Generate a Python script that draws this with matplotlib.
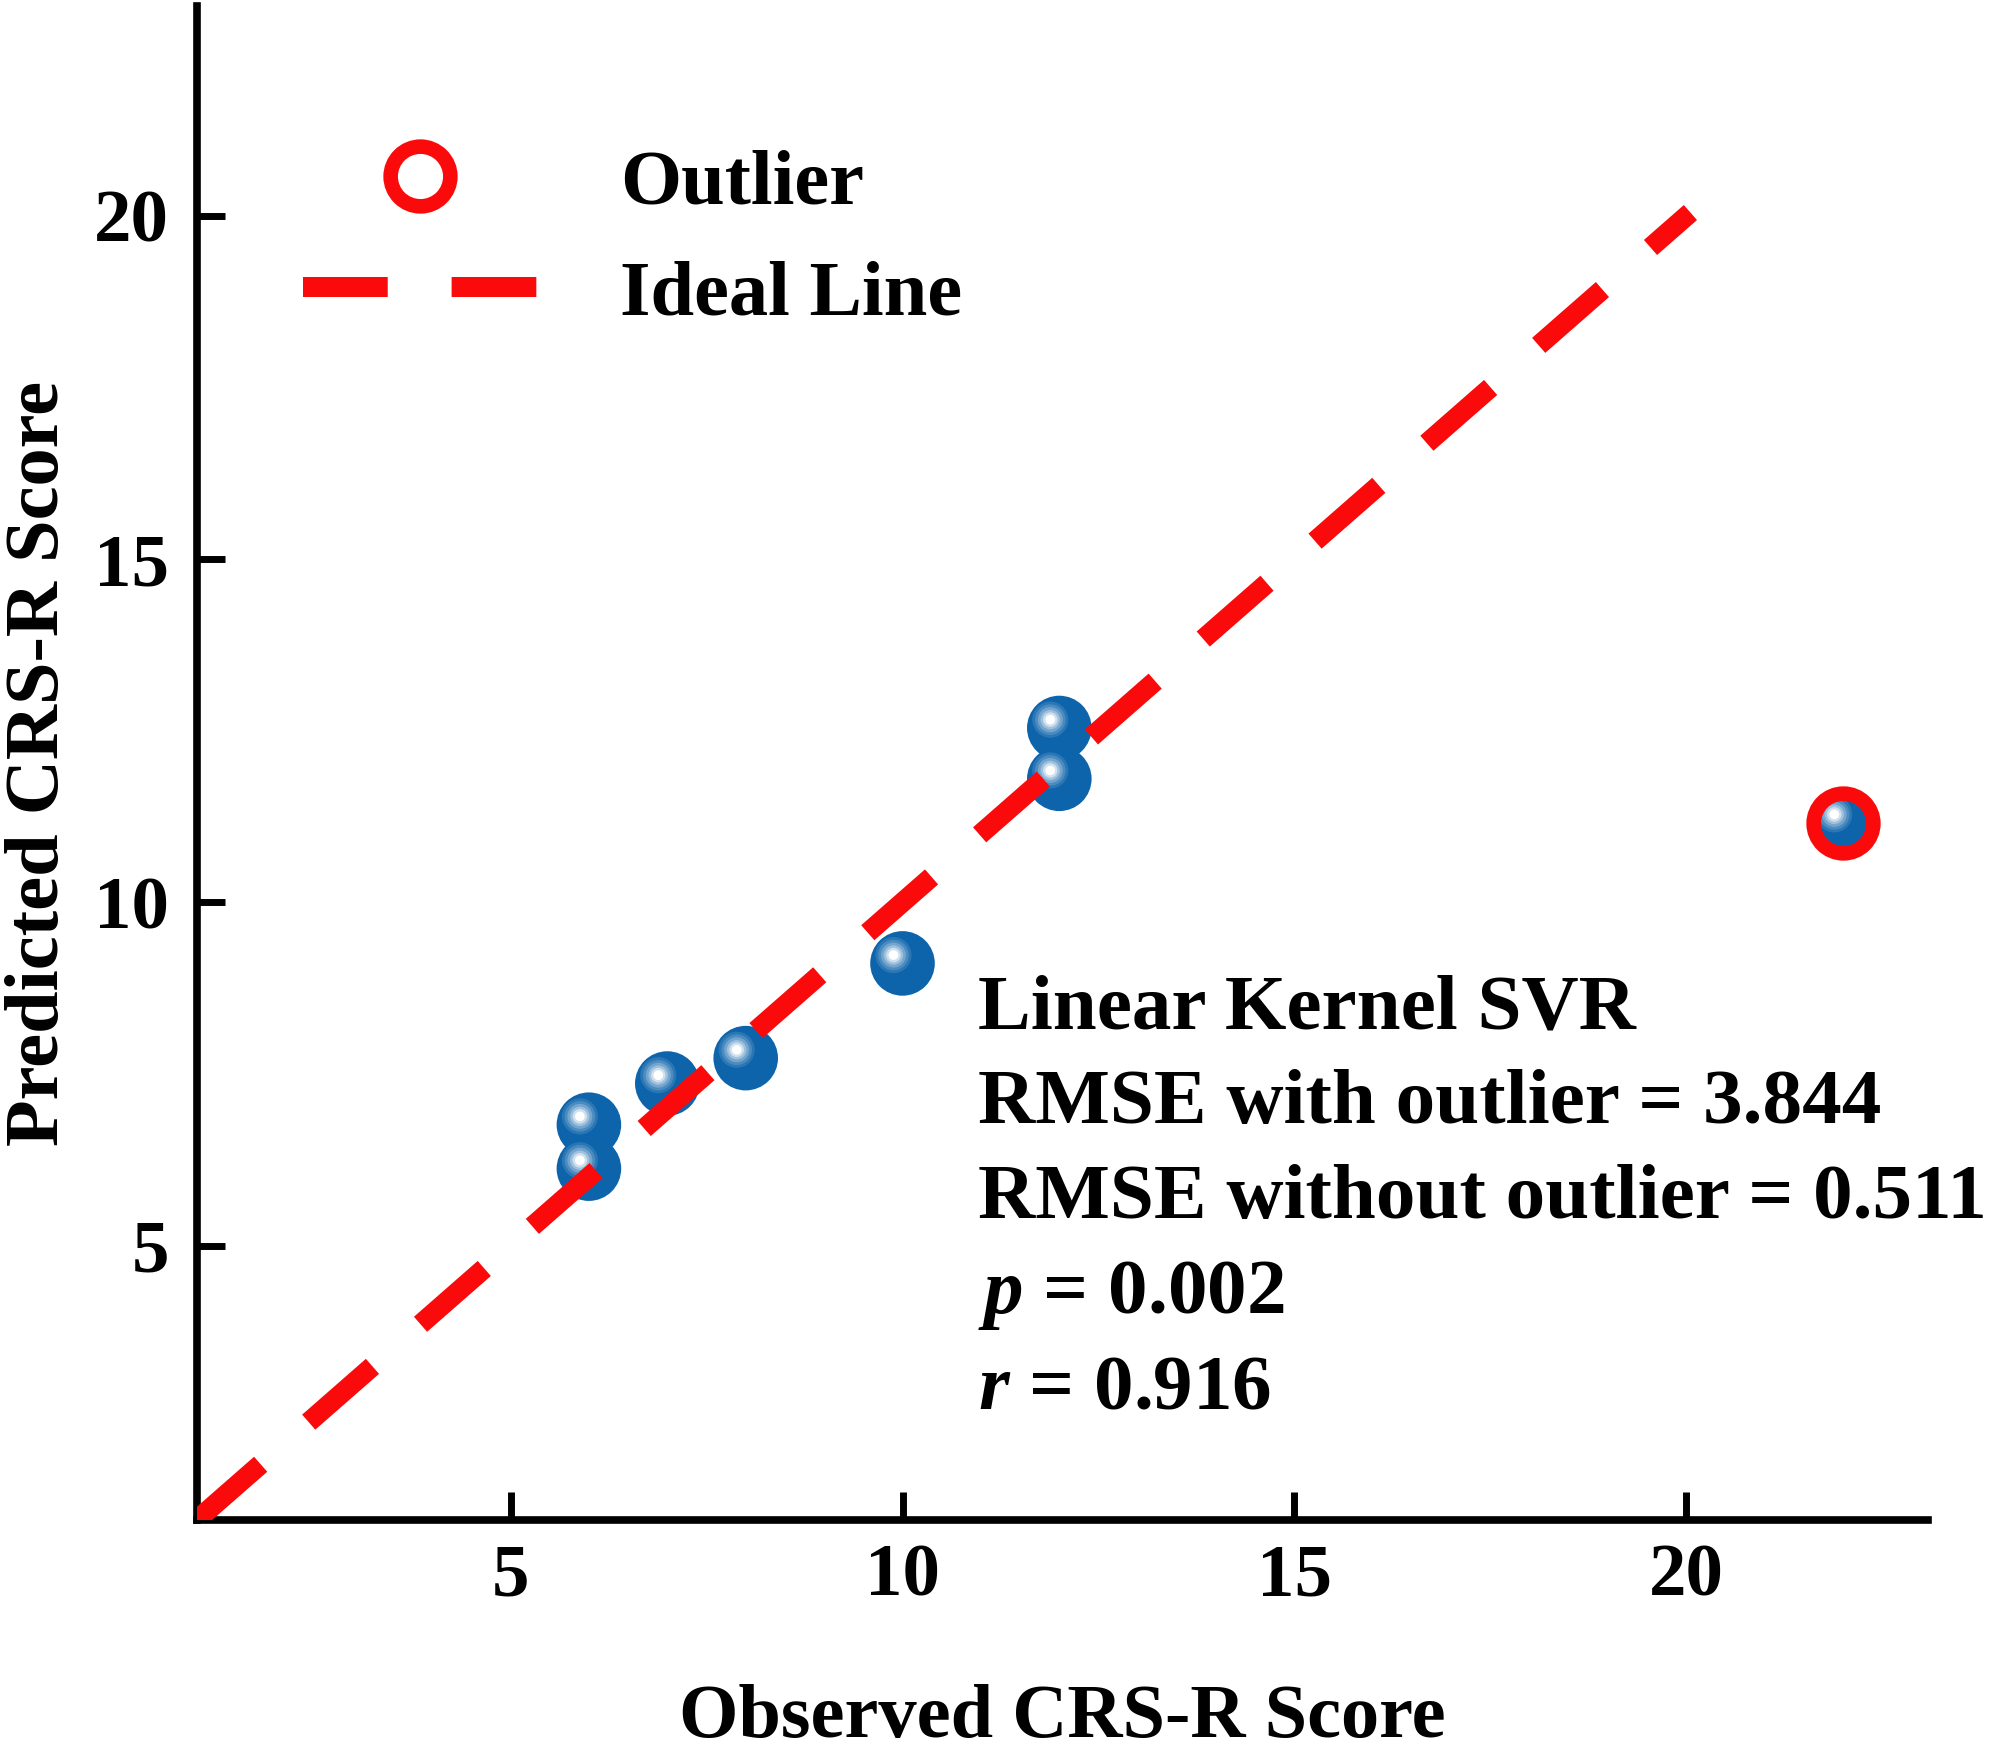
import matplotlib
matplotlib.use('Agg')
import matplotlib.pyplot as plt
from matplotlib.transforms import ScaledTranslation
import numpy as np

# observed vs predicted CRS-R scores
observed = [6, 6, 7, 8, 10, 12, 12, 22]
predicted = [6.12, 6.76, 7.36, 7.73, 9.11, 11.80, 12.54, 11.16]
outlier_obs = [22]
outlier_pred = [11.16]
ideal = [1, 20.05]

stats_lines = ['Linear Kernel SVR',
               'RMSE with outlier = 3.844',
               'RMSE without outlier = 0.511',
               '$p$ = 0.002',
               '$r$ = 0.916']
xticks = [5, 10, 15, 20]
yticks = [5, 10, 15, 20]

plt.rcParams['font.family'] = ['Liberation Serif', 'DejaVu Serif']
plt.rcParams['font.weight'] = 'bold'
plt.rcParams['mathtext.fontset'] = 'custom'
plt.rcParams['mathtext.it'] = 'Liberation Serif:italic:bold'
plt.rcParams['mathtext.rm'] = 'Liberation Serif:bold'
plt.rcParams['lines.scale_dashes'] = False

BLUE = '#0e64ab'
RED = '#fa0a0a'
FS = 54

fig = plt.figure(figsize=(19.95, 17.5), dpi=100)
ax = fig.add_axes([0.0987, 0.1314, 0.8677, 0.8652])

# spheres: base disc + lighter discs shifted to the upper left
ax.scatter(observed, predicted, s=46.5**2, color=BLUE, edgecolors='none', zorder=2)
shift = ax.transData + ScaledTranslation(-6.5 / 72, 6 / 72, fig.dpi_scale_trans)
blue = np.array(matplotlib.colors.to_rgb(BLUE))
for d, w in [(26, 0.12), (22, 0.25), (18, 0.42), (14, 0.6), (10.5, 0.8), (7, 1.0)]:
    c = blue * (1 - w) + np.ones(3) * w
    ax.scatter(observed, predicted, s=d**2, color=c, edgecolors='none',
               transform=shift, zorder=2.1)

line, = ax.plot(ideal, ideal, color=RED, lw=14.4, dashes=(61, 46),
                dash_capstyle='butt', zorder=3, label='Ideal Line')
ring, = ax.plot(outlier_obs, outlier_pred, ls='none', marker='o', ms=43,
                mfc='none', mec=RED, mew=10.5, zorder=4, label='Outlier')

ax.set_xlim(1, 23.08)
ax.set_ylim(1, 23.06)
ax.set_xticks(xticks)
ax.set_yticks(yticks)
for s in ['top', 'right']:
    ax.spines[s].set_visible(False)
for s in ['left', 'bottom']:
    ax.spines[s].set_linewidth(5.5)
ax.tick_params(direction='in', length=20, width=5, labelsize=FS)
ax.tick_params(axis='x', pad=17)
ax.tick_params(axis='y', pad=20)

ax.set_xlabel('Observed CRS-R Score', fontsize=55, fontweight='bold', va='center')
ax.set_ylabel('Predicted CRS-R Score', fontsize=55, fontweight='bold', va='center')
ax.xaxis.set_label_coords(0.5, -0.131)
ax.yaxis.set_label_coords(-0.091, 0.5)

ax.legend(handles=[ring, line], loc='upper left', bbox_to_anchor=(0.061, 0.906),
          frameon=False, fontsize=56.5, handlelength=3.0, handletextpad=1.05,
          labelspacing=0.5, borderpad=0, borderaxespad=0)

for i, txt in enumerate(stats_lines):
    yb = 1 - (1028 + i * 95 - 6) / 1514
    ax.text(0.4513, yb, txt, transform=ax.transAxes, fontsize=57,
            fontweight='bold', va='baseline', ha='left')

fig.savefig('out.png', dpi=100)
